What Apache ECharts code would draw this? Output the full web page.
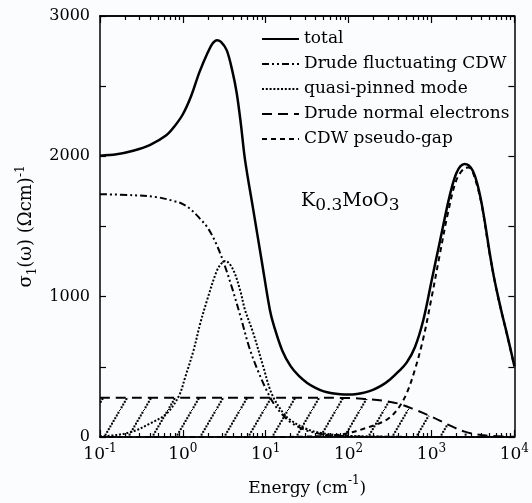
<!DOCTYPE html>
<html>
<head>
<meta charset="utf-8">
<script src="https://cdn.jsdelivr.net/npm/echarts@6/dist/echarts.min.js"></script>
<style>
html, body { margin: 0; padding: 0; background: #fbfcfd; }
#chart { width: 532px; height: 503px; }
</style>
</head>
<body>
<div id="chart"></div>
<script>
// x = log10(energy / cm-1), y = sigma1 in (Ohm cm)^-1
const totalLogE = [-1, -0.8, -0.6, -0.4, -0.2, -0.1, 0, 0.1, 0.2, 0.3, 0.36, 0.41, 0.46, 0.53, 0.6, 0.65, 0.7, 0.75, 0.85, 0.95, 1.05, 1.1, 1.2, 1.3, 1.4, 1.5, 1.6, 1.7, 1.8, 1.9, 2.0, 2.1, 2.2, 2.3, 2.4, 2.5, 2.6, 2.7, 2.8, 2.9, 3.0, 3.1, 3.2, 3.25, 3.3, 3.35, 3.4, 3.45, 3.5, 3.55, 3.6, 3.65, 3.7, 3.75, 3.8, 3.85, 3.9, 3.95, 4.0]
const totalSigma = [2005, 2015, 2040, 2080, 2150, 2215, 2300, 2430, 2600, 2740, 2805, 2828, 2815, 2755, 2600, 2450, 2230, 1975, 1617, 1260, 905, 790, 615, 505, 435, 385, 350, 325, 312, 305, 303, 307, 318, 338, 368, 410, 465, 530, 640, 830, 1110, 1390, 1670, 1790, 1880, 1930, 1946, 1935, 1895, 1810, 1680, 1510, 1320, 1150, 1010, 880, 760, 635, 505]

const fluctLogE = [-1, -0.6, -0.3, -0.1, 0, 0.1, 0.2, 0.3, 0.4, 0.5, 0.6, 0.7, 0.8, 0.9, 1.0, 1.1, 1.2, 1.3, 1.4, 1.5, 1.7, 2.0, 2.5, 3, 4]
const fluctSigma = [1730, 1723, 1708, 1680, 1660, 1620, 1560, 1490, 1380, 1230, 1050, 850, 640, 480, 345, 235, 160, 105, 70, 45, 18, 5, 1, 0, 0]

const pinnedLogE = [-1, -0.8, -0.6, -0.4, -0.2, -0.05, 0.03, 0.13, 0.21, 0.3, 0.4, 0.45, 0.51, 0.6, 0.69, 0.75, 0.85, 0.97, 1.07, 1.2, 1.3, 1.5, 1.7, 2.0, 2.5, 3, 4]
const pinnedSigma = [5, 14, 40, 95, 165, 290, 430, 620, 810, 990, 1170, 1225, 1255, 1200, 1048, 905, 739, 501, 311, 180, 120, 55, 25, 8, 2, 0, 0]

const normalLogE = [-1, 0, 1, 2.0, 2.2, 2.4, 2.6, 2.8, 3.0, 3.2, 3.4, 3.6, 3.8, 4.0]
const normalSigma = [280, 280, 280, 278, 271, 260, 238, 195, 145, 88, 38, 14, 5, 2]

const gapLogE = [-1, 1, 1.5, 1.8, 2.0, 2.2, 2.4, 2.5, 2.6, 2.7, 2.8, 2.9, 3.0, 3.1, 3.2, 3.3, 3.4, 3.45, 3.5, 3.6, 3.7, 3.8, 3.9, 4.0]
const gapSigma = [0, 0, 3, 12, 28, 62, 105, 140, 205, 310, 480, 700, 990, 1300, 1600, 1830, 1915, 1920, 1885, 1670, 1310, 1005, 757, 503]

const decadeExps = [-1, 0, 1, 2, 3, 4]
const sigmaLabels = [0, 1000, 2000, 3000]

const FONT = 'DejaVu Serif'

// minor log ticks 2..9 in every decade
const minorLogE = []
for (let n = decadeExps[0]; n < decadeExps[decadeExps.length - 1]; n++) {
    for (let k = 2; k <= 9; k++) minorLogE.push(n + Math.log10(k))
}

const pairs = (xs, ys) => xs.map((x, i) => [x, ys[i]])

// dotted diagonal hatching for the Drude normal electrons area
const hatch = () => {
    const w = 24, h = 41
    const c = document.createElement('canvas')
    c.width = w
    c.height = h
    const ctx = c.getContext('2d')
    ctx.fillStyle = '#000'
    const n = 15
    for (let i = 0; i < n; i++) {
        const t = i / n
        const x = w * t, y = h * (1 - t)
        ;[[0, 0], [-w, h], [w, -h]].forEach(([dx, dy]) => {
            ctx.fillRect(x + dx - 1, y + dy - 1, 2, 2)
        })
    }
    return c
}

const axisLine = { show: true, onZero: false, lineStyle: { color: '#000', width: 1.5 } }
const tickStyle = { color: '#000', width: 1.2 }

const xAxisDef = (position, minor, withLabels) => ({
    type: 'value',
    position: position,
    min: -1,
    max: 4,
    interval: 1,
    axisLine: axisLine,
    splitLine: { show: false },
    axisTick: minor
        ? { show: true, inside: true, length: 4, customValues: minorLogE, lineStyle: tickStyle }
        : { show: true, inside: true, length: 7, lineStyle: tickStyle },
    axisLabel: {
        show: withLabels,
        margin: 6,
        formatter: v => '{b|10}{s|' + v + '}',
        rich: {
            b: { fontFamily: FONT, fontSize: 17, color: '#000', lineHeight: 20, verticalAlign: 'bottom' },
            s: { fontFamily: FONT, fontSize: 12, color: '#000', lineHeight: 12, verticalAlign: 'top' }
        }
    },
    name: withLabels ? '{t|Energy (cm}{s|-1}{t|)}' : '',
    nameLocation: 'middle',
    nameGap: 38,
    nameTextStyle: {
        rich: {
            t: { fontFamily: FONT, fontSize: 17, color: '#000', lineHeight: 22, verticalAlign: 'bottom' },
            s: { fontFamily: FONT, fontSize: 12, color: '#000', lineHeight: 12, verticalAlign: 'top' }
        }
    }
})

const yAxisDef = (position, withLabels) => ({
    type: 'value',
    position: position,
    min: 0,
    max: 3000,
    interval: 500,
    axisLine: axisLine,
    splitLine: { show: false },
    axisTick: { show: true, inside: true, length: 6, lineStyle: tickStyle },
    axisLabel: {
        show: withLabels,
        margin: 10,
        fontFamily: FONT,
        fontSize: 16,
        color: '#000',
        formatter: v => sigmaLabels.includes(v) ? String(v) : ''
    },
    name: withLabels ? '{t|\u03c3}{sub|1}{t|(\u03c9) (\u03a9cm)}{sup|-1}' : '',
    nameLocation: 'middle',
    nameRotate: 90,
    nameGap: 57,
    nameTextStyle: {
        rich: {
            t: { fontFamily: FONT, fontSize: 18, color: '#000', lineHeight: 24 },
            sub: { fontFamily: FONT, fontSize: 12, color: '#000', lineHeight: 12, verticalAlign: 'bottom' },
            sup: { fontFamily: FONT, fontSize: 12, color: '#000', lineHeight: 12, verticalAlign: 'top' }
        }
    }
})

const lineSeries = (name, xs, ys, type, width, extra) => Object.assign({
    name: name,
    type: 'line',
    data: pairs(xs, ys),
    smooth: 0.35,
    symbol: 'none',
    showSymbol: false,
    silent: true,
    lineStyle: { color: '#000', width: width, type: type },
    itemStyle: { color: '#000' }
}, extra || {})

const chart = echarts.init(document.getElementById('chart'))
chart.setOption({
    backgroundColor: '#fbfcfd',
    animation: false,
    grid: { left: 100, right: 13, top: 16, bottom: 66 },
    xAxis: [
        xAxisDef('bottom', false, true),
        xAxisDef('bottom', true, false),
        xAxisDef('top', false, false),
        xAxisDef('top', true, false)
    ],
    yAxis: [
        yAxisDef('left', true),
        yAxisDef('right', false)
    ],
    legend: {
        orient: 'vertical',
        left: 261,
        top: 30,
        padding: 0,
        itemWidth: 37,
        itemHeight: 14,
        itemGap: 7,
        selectedMode: false,
        itemStyle: { opacity: 0 },
        textStyle: { fontFamily: FONT, fontSize: 17, color: '#000', lineHeight: 18 },
        data: ['total', 'Drude fluctuating CDW', 'quasi-pinned mode', 'Drude normal electrons', 'CDW pseudo-gap']
    },
    graphic: [{
        type: 'text',
        left: 301,
        top: 192,
        style: {
            text: '{m|K}{s|0.3}{m|MoO}{s|3}',
            rich: {
                m: { fontFamily: FONT, fontSize: 19, fill: '#000', lineHeight: 22, verticalAlign: 'top' },
                s: { fontFamily: FONT, fontSize: 17, fill: '#000', lineHeight: 18, verticalAlign: 'bottom' }
            }
        }
    }],
    series: [
        lineSeries('Drude normal electrons', normalLogE, normalSigma, [10, 6], 2, {
            areaStyle: { color: { image: hatch(), repeat: 'repeat' }, opacity: 1 },
            z: 1
        }),
        lineSeries('CDW pseudo-gap', gapLogE, gapSigma, [5, 4], 2, { z: 2 }),
        lineSeries('quasi-pinned mode', pinnedLogE, pinnedSigma, [2, 1.8], 2, { z: 3 }),
        lineSeries('Drude fluctuating CDW', fluctLogE, fluctSigma, [7, 3, 2, 3, 2, 3], 2, { z: 4 }),
        lineSeries('total', totalLogE, totalSigma, 'solid', 2.5, { z: 5 })
    ]
})
</script>
</body>
</html>
